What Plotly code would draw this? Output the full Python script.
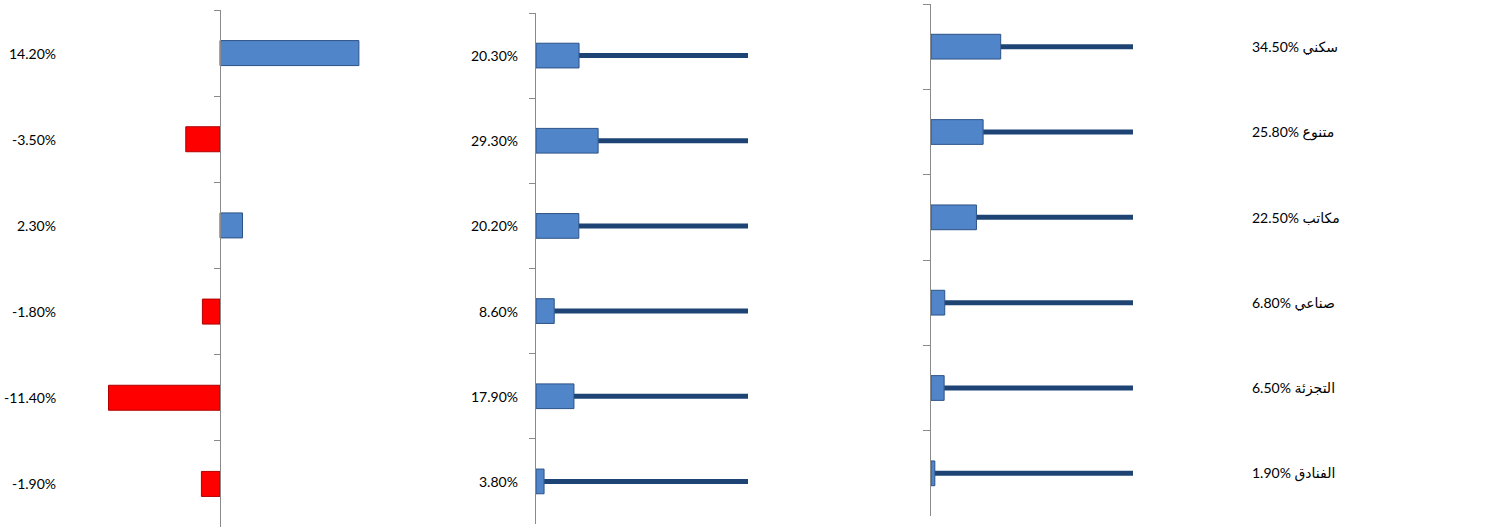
import plotly.graph_objects as go

# ---------------- data ----------------
sectors = ["سكني", "متنوع", "مكاتب", "صناعي", "التجزئة", "الفنادق"]
change_pct = [14.2, -3.5, 2.3, -1.8, -11.4, -1.9]
middle_pct = [20.3, 29.3, 20.2, 8.6, 17.9, 3.8]
share_pct = [34.5, 25.8, 22.5, 6.8, 6.5, 1.9]
full_scale = 100

# ---------------- layout helpers ----------------
W, H = 1490, 527


def px(x):
    return x / W


def py(y):
    return 1 - y / H


BLUE = "#5085c9"
BLUE_EDGE = "#2c5286"
RED = "#ff0000"
RED_EDGE = "#b00000"
NAVY = "#1d4475"
AXIS = "#8a8a8a"
FONT = dict(family="Lato, 'DejaVu Sans', sans-serif", size=14, color="#000000")
BAR_W = 0.29
LINE_W = 0.058

fig = go.Figure()

# Panel 1: change (diverging)
fig.add_trace(go.Bar(
    y=sectors, x=change_pct, orientation="h", width=BAR_W,
    marker=dict(color=[BLUE if v >= 0 else RED for v in change_pct],
                line=dict(color=[BLUE_EDGE if v >= 0 else RED_EDGE for v in change_pct], width=1)),
    xaxis="x", yaxis="y", hoverinfo="skip"))

# Panel 2: value bar + track to 100%
fig.add_trace(go.Bar(
    y=sectors, x=[full_scale - v for v in middle_pct], base=middle_pct, orientation="h",
    width=LINE_W, marker=dict(color=NAVY, line=dict(width=0)),
    xaxis="x2", yaxis="y2", hoverinfo="skip"))
fig.add_trace(go.Bar(
    y=sectors, x=middle_pct, orientation="h", width=BAR_W,
    marker=dict(color=BLUE, line=dict(color=BLUE_EDGE, width=1)),
    xaxis="x2", yaxis="y2", hoverinfo="skip"))

# Panel 3: share bar + track to 100%
fig.add_trace(go.Bar(
    y=sectors, x=[full_scale - v for v in share_pct], base=share_pct, orientation="h",
    width=LINE_W, marker=dict(color=NAVY, line=dict(width=0)),
    xaxis="x3", yaxis="y3", hoverinfo="skip"))
fig.add_trace(go.Bar(
    y=sectors, x=share_pct, orientation="h", width=BAR_W,
    marker=dict(color=BLUE, line=dict(color=BLUE_EDGE, width=1)),
    xaxis="x3", yaxis="y3", hoverinfo="skip"))

# axes
s1 = 9.78   # px per percent in panel 1
zero1 = 220
x1_range = [-12, 15]
s2 = 2.12
zero2 = 536
s3 = 2.02
zero3 = 931
x23_range = [0, 101]

hidden_x = dict(showgrid=False, zeroline=False, showline=False, showticklabels=False, ticks="")


def cat_axis(dom, **kw):
    d = dict(type="category", categoryorder="array", categoryarray=sectors,
             range=[5.5, -0.5], domain=dom, showgrid=False, zeroline=False,
             showline=True, linecolor=AXIS, linewidth=1, ticks="outside",
             tickson="boundaries", ticklen=6, tickcolor=AXIS, tickwidth=1,
             showticklabels=False)
    d.update(kw)
    return d


fig.update_layout(
    width=W, height=H,
    margin=dict(l=0, r=0, t=0, b=0),
    paper_bgcolor="white", plot_bgcolor="white",
    showlegend=False, barmode="overlay",
    font=FONT,
    xaxis=dict(domain=[px(zero1 + x1_range[0] * s1), px(zero1 + x1_range[1] * s1)],
               range=x1_range, anchor="y", **hidden_x),
    yaxis=cat_axis([py(527), py(10)], anchor="free", position=px(zero1)),
    xaxis2=dict(domain=[px(zero2), px(zero2 + x23_range[1] * s2)], range=x23_range,
                anchor="y2", **hidden_x),
    yaxis2=cat_axis([py(524), py(13)], anchor="x2"),
    xaxis3=dict(domain=[px(zero3), px(zero3 + x23_range[1] * s3)], range=x23_range,
                anchor="y3", **hidden_x),
    yaxis3=cat_axis([py(516), py(4)], anchor="x3", ticklen=7),
)

annotations = []
for cat, v in zip(sectors, change_pct):
    annotations.append(dict(text=f"{v:.2f}%", x=px(58), xref="paper", xanchor="right",
                            y=cat, yref="y", yanchor="middle", showarrow=False, font=FONT))
for cat, v in zip(sectors, middle_pct):
    annotations.append(dict(text=f"{v:.2f}%", x=px(520), xref="paper", xanchor="right",
                            y=cat, yref="y2", yanchor="middle", showarrow=False, font=FONT))
for cat, v in zip(sectors, share_pct):
    annotations.append(dict(text=f"{v:.2f}% {cat}", x=px(1250), xref="paper", xanchor="left",
                            y=cat, yref="y3", yanchor="middle", showarrow=False, font=FONT))
fig.update_layout(annotations=annotations)

fig.write_html("out.html",
               config={"displayModeBar": False},
               post_script="document.body.style.margin='0';document.body.style.overflow='hidden';")
